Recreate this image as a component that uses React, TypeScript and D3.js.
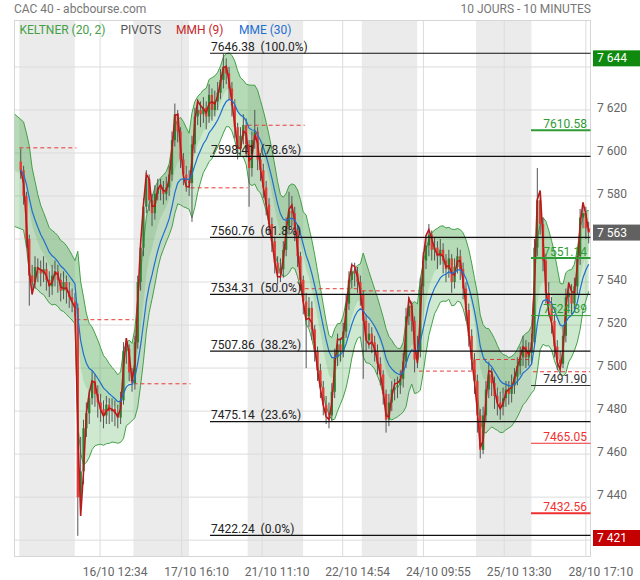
import * as d3 from 'd3';

const W = 640;
const H = 580;
const left = 14.5;
const right = 590.5;
const top = 20.5;
const bottom = 556.5;

const title = 'CAC 40 - abcbourse.com';
const subtitle = '10 JOURS - 10 MINUTES';

// 10 jours, 20 bougies par jour
const candlesPerDay = 20;
const firstOpen = 7596;

const closes = [
  7592, 7580, 7560, 7543, 7540, 7547, 7546, 7544, 7546, 7541, 7538, 7543, 7545, 7541, 7536, 7540, 7536, 7533, 7531, 7528,
  7440, 7452, 7472, 7479, 7486, 7494, 7488, 7484, 7481, 7478, 7483, 7480, 7481, 7479, 7477, 7485, 7508, 7509, 7498, 7493,
  7512, 7540, 7556, 7575, 7588, 7578, 7572, 7581, 7584, 7583, 7581, 7584, 7590, 7606, 7618, 7610, 7597, 7590, 7587, 7586,
  7604, 7617, 7620, 7618, 7621, 7617, 7627, 7620, 7624, 7628, 7634, 7640, 7637, 7630, 7622, 7612, 7602, 7608, 7613, 7604,
  7593, 7606, 7610, 7597, 7592, 7584, 7576, 7567, 7559, 7549, 7544, 7546, 7555, 7566, 7573, 7572, 7564, 7552, 7541, 7531,
  7524, 7528, 7518, 7508, 7499, 7491, 7483, 7479, 7478, 7489, 7505, 7511, 7508, 7517, 7530, 7541, 7545, 7544, 7540, 7534,
  7522, 7513, 7516, 7512, 7508, 7502, 7497, 7488, 7476, 7484, 7490, 7491, 7492, 7495, 7503, 7524, 7529, 7522, 7504, 7508,
  7538, 7550, 7557, 7562, 7555, 7556, 7552, 7555, 7550, 7546, 7551, 7540, 7547, 7552, 7546, 7537, 7527, 7515, 7504, 7494,
  7478, 7462, 7478, 7490, 7497, 7493, 7487, 7484, 7482, 7486, 7490, 7488, 7492, 7496, 7501, 7505, 7510, 7505, 7507, 7512,
  7556, 7578, 7567, 7550, 7535, 7530, 7522, 7510, 7504, 7502, 7515, 7533, 7535, 7530, 7538, 7552, 7570, 7572, 7565, 7563,
];

const highs = [
  7602, 7594, 7582, 7562, 7548, 7552, 7551, 7550, 7552, 7549, 7545, 7548, 7550, 7548, 7544, 7545, 7543, 7540, 7537, 7535,
  7530, 7468, 7476, 7484, 7490, 7499, 7497, 7492, 7488, 7485, 7487, 7486, 7486, 7485, 7483, 7489, 7512, 7514, 7511, 7500,
  7515, 7543, 7560, 7579, 7592, 7590, 7581, 7585, 7588, 7588, 7587, 7589, 7594, 7610, 7623, 7620, 7612, 7600, 7594, 7592,
  7608, 7621, 7625, 7624, 7626, 7624, 7632, 7630, 7629, 7633, 7639, 7646, 7644, 7640, 7633, 7625, 7614, 7612, 7618, 7616,
  7606, 7610, 7620, 7612, 7600, 7595, 7587, 7579, 7570, 7561, 7552, 7551, 7559, 7570, 7582, 7580, 7575, 7566, 7554, 7543,
  7535, 7533, 7531, 7520, 7510, 7502, 7494, 7487, 7484, 7493, 7509, 7516, 7514, 7521, 7534, 7545, 7549, 7549, 7547, 7543,
  7536, 7525, 7521, 7519, 7515, 7511, 7505, 7499, 7490, 7488, 7494, 7495, 7496, 7499, 7507, 7528, 7533, 7531, 7524, 7515,
  7542, 7554, 7561, 7567, 7564, 7561, 7559, 7560, 7558, 7553, 7555, 7553, 7551, 7556, 7555, 7549, 7540, 7530, 7518, 7507,
  7497, 7481, 7482, 7494, 7503, 7500, 7496, 7491, 7489, 7491, 7494, 7494, 7497, 7500, 7505, 7510, 7515, 7513, 7512, 7516,
  7560, 7593, 7582, 7570, 7553, 7540, 7533, 7525, 7513, 7508, 7519, 7537, 7540, 7539, 7542, 7556, 7574, 7577, 7575, 7568,
];

const lows = [
  7588, 7576, 7556, 7529, 7534, 7537, 7540, 7538, 7540, 7536, 7533, 7534, 7538, 7535, 7531, 7532, 7530, 7528, 7526, 7524,
  7422, 7436, 7446, 7468, 7474, 7483, 7482, 7477, 7475, 7472, 7474, 7474, 7475, 7473, 7472, 7474, 7483, 7502, 7494, 7489,
  7490, 7509, 7536, 7552, 7572, 7573, 7566, 7569, 7578, 7578, 7576, 7578, 7580, 7587, 7603, 7605, 7593, 7585, 7582, 7580,
  7568, 7600, 7613, 7612, 7614, 7611, 7614, 7615, 7617, 7620, 7625, 7630, 7632, 7625, 7617, 7607, 7597, 7599, 7604, 7598,
  7575, 7589, 7602, 7592, 7587, 7579, 7571, 7562, 7554, 7544, 7539, 7540, 7542, 7552, 7562, 7566, 7559, 7547, 7536, 7525,
  7500, 7519, 7513, 7503, 7494, 7486, 7478, 7474, 7472, 7475, 7486, 7501, 7503, 7505, 7514, 7527, 7537, 7538, 7535, 7529,
  7495, 7508, 7509, 7507, 7503, 7497, 7492, 7483, 7470, 7473, 7480, 7485, 7486, 7488, 7491, 7500, 7520, 7517, 7498, 7500,
  7505, 7534, 7546, 7552, 7550, 7550, 7546, 7548, 7544, 7540, 7542, 7535, 7537, 7544, 7541, 7532, 7522, 7510, 7499, 7488,
  7470, 7458, 7460, 7475, 7486, 7487, 7481, 7478, 7476, 7478, 7482, 7483, 7484, 7488, 7492, 7497, 7501, 7500, 7501, 7502,
  7510, 7552, 7562, 7545, 7530, 7524, 7516, 7505, 7499, 7497, 7500, 7512, 7528, 7525, 7526, 7534, 7548, 7565, 7560, 7558,
];

// pivot journalier (ligne pointillée rouge)
const dailyPivots = [7602.4, 7522.5, 7492.7, 7583.8, 7612.9, 7536.9, 7535.9, 7498.6, 7504.0, 7498.3];

// retracements de Fibonacci
const fiboLevels = [7646.38, 7598.41, 7560.76, 7534.31, 7507.86, 7475.14, 7422.24];
const fiboPct = ['100.0%', '78.6%', '61.8%', '50.0%', '38.2%', '23.6%', '0.0%'];

// pivots du jour suivant
const nextPivots = [7610.58, 7551.14, 7524.39, 7491.9, 7465.05, 7432.56];

const yTicks = [7420, 7440, 7460, 7480, 7500, 7520, 7540, 7560, 7580, 7600, 7620, 7640];
const xTickIdx = [27.8, 56.4, 84.6, 112.8, 141.1, 169.4, 198.0];
const xTickLabels = ['16/10 12:34', '17/10 16:10', '21/10 11:10', '22/10 14:54', '24/10 09:55', '25/10 13:30', '28/10 17:10'];

const priceMax = 7644;
const priceLast = 7563;
const priceMin = 7421;

// indicateurs (périodes ramenées à la granularité des bougies)
const kPeriod = 8;
const kMult = 1.2;
const atrSeed = 24;
const mmePeriod = 12;
const mmhPeriod = 4;

const ema = (vals: number[], n: number) => {
  const a = 2 / (n + 1);
  let e = vals[0];
  return vals.map((v, i) => {
    e = i === 0 ? v : e + a * (v - e);
    return e;
  });
};

const wma = (vals: number[], n: number) =>
  vals.map((_, i) => {
    let s = 0;
    let w = 0;
    for (let j = 0; j < n; j++) {
      const k = i - j;
      if (k < 0) break;
      s += vals[k] * (n - j);
      w += n - j;
    }
    return s / w;
  });

const hma = (vals: number[], n: number) => {
  const half = wma(vals, Math.round(n / 2));
  const full = wma(vals, n);
  return wma(half.map((h, i) => 2 * h - full[i]), Math.max(1, Math.round(Math.sqrt(n))));
};

const fmt = d3.formatLocale({ decimal: '.', thousands: ' ', grouping: [3], currency: ['', ''] }).format(',d');

export default function App() {
  const n = closes.length;
  const opens = closes.map((c, i) => (i === 0 ? firstOpen : closes[i - 1]));

  const xs = d3.scaleLinear().domain([0, n - 1]).range([20.73, 588.7]);
  const ys = d3.scaleLinear().domain([7412.4, 7661.6]).range([bottom, top]);
  const step = xs(1) - xs(0);

  // Keltner
  const mid = ema(closes, kPeriod);
  const tr = closes.map((c, i) => {
    const pc = i === 0 ? firstOpen : closes[i - 1];
    return Math.max(highs[i] - lows[i], Math.abs(highs[i] - pc), Math.abs(lows[i] - pc));
  });
  const aA = 2 / (kPeriod + 1);
  let at = atrSeed;
  const atr = tr.map((t) => {
    at = at + aA * (t - at);
    return at;
  });
  const upper = mid.map((m, i) => m + kMult * atr[i]);
  const lower = mid.map((m, i) => m - kMult * atr[i]);
  const mme = ema(closes, mmePeriod);
  const mmh = hma(closes, mmhPeriod);

  const idx = d3.range(n);
  // la bande démarre au bord gauche du cadre
  const bx = (i: number) => (i === 0 ? left : xs(i));
  const bandArea = d3.area<number>().x(bx).y0((i) => ys(lower[i])).y1((i) => ys(upper[i]));
  const upperArea = d3.area<number>().x(bx).y0((i) => ys(mid[i])).y1((i) => ys(upper[i]));
  const bandLine = (arr: number[]) => d3.line<number>().x(bx).y((i) => ys(arr[i]))(idx) || '';
  const lineOf = (arr: number[]) => d3.line<number>().x((i) => xs(i)).y((i) => ys(arr[i]))(idx) || '';

  const days = d3.range(closes.length / candlesPerDay);
  const font = 'Roboto, "Noto Sans", sans-serif';

  const nextPivotStyle = [
    { c: '#2e9b33', w: 2 },
    { c: '#2e9b33', w: 2 },
    { c: '#2e9b33', w: 1 },
    { c: '#333333', w: 1 },
    { c: '#f03030', w: 1 },
    { c: '#f03030', w: 2 },
  ];

  const boxes = [
    { v: priceMax, fill: '#0f8a0f' },
    { v: priceLast, fill: '#616161' },
    { v: priceMin, fill: '#c40000' },
  ];
  // les étiquettes masquées par les cartouches ne sont pas dessinées
  const visibleTicks = yTicks.filter((t) => boxes.every((b) => Math.abs(ys(t) - 2 - ys(b.v)) > 13));

  return (
    <svg
      width={W}
      height={H}
      style={{ position: 'absolute', left: 0, top: 0, background: '#fff' }}
      fontFamily={font}
    >
      <defs>
        <clipPath id="plot">
          <rect x={left} y={top} width={right - left} height={bottom - top} />
        </clipPath>
      </defs>

      <text x={14} y={12.5} fontSize={12} fill="#777">{title}</text>
      <text x={591} y={12.5} fontSize={12} fill="#777" textAnchor="end">{subtitle}</text>

      {/* fond des jours alternés */}
      {days.filter((d) => d % 2 === 0).map((d) => (
        <rect
          key={'day' + d}
          x={xs(d * candlesPerDay) - step / 2}
          y={top}
          width={xs(d * candlesPerDay + candlesPerDay - 1) - xs(d * candlesPerDay) + step - 1.6}
          height={bottom - top}
          fill="#ebebeb"
        />
      ))}

      {/* grille */}
      {yTicks.map((t) => (
        <line key={'gy' + t} x1={left} x2={right} y1={ys(t)} y2={ys(t)} stroke="#dcdcdc" />
      ))}
      {xTickIdx.map((t) => (
        <line key={'gx' + t} x1={xs(t)} x2={xs(t)} y1={top} y2={bottom} stroke="#dcdcdc" />
      ))}
      <rect x={left} y={top} width={right - left} height={bottom - top} fill="none" stroke="#d6d6d6" />

      <g clipPath="url(#plot)">
        {/* Keltner */}
        <path d={bandArea(idx) || ''} fill="#4caf50" fillOpacity={0.27} />
        <path d={upperArea(idx) || ''} fill="#3d9a40" fillOpacity={0.18} />
        <path d={bandLine(upper)} fill="none" stroke="#43a047" strokeWidth={1} />
        <path d={bandLine(lower)} fill="none" stroke="#43a047" strokeWidth={1} />

        {/* pivots */}
        {dailyPivots.map((p, d) => (
          <line
            key={'pv' + d}
            x1={xs(d * candlesPerDay) - step / 2}
            x2={xs(d * candlesPerDay + candlesPerDay - 1) + step / 2}
            y1={ys(p)}
            y2={ys(p)}
            stroke="#e53935"
            strokeDasharray="4,3"
          />
        ))}

        {/* bougies */}
        {idx.map((i) => (
          <line key={'w' + i} x1={xs(i)} x2={xs(i)} y1={ys(highs[i])} y2={ys(lows[i])} stroke="#555" strokeWidth={1} />
        ))}
        {idx.map((i) => {
          const up = closes[i] >= opens[i];
          const y0 = ys(Math.max(opens[i], closes[i]));
          const y1 = ys(Math.min(opens[i], closes[i]));
          return (
            <rect
              key={'b' + i}
              x={xs(i) - step * 0.4}
              y={y0}
              width={step * 0.8}
              height={Math.max(1, y1 - y0)}
              fill={up ? '#2e7d32' : '#e53935'}
            />
          );
        })}

        <path d={lineOf(mmh)} fill="none" stroke="#b71c1c" strokeWidth={1.6} />
        <path d={lineOf(mme)} fill="none" stroke="#1e6fd0" strokeWidth={1.2} />
      </g>

      {/* Fibonacci */}
      {fiboLevels.map((v, i) => (
        <g key={'fb' + i}>
          <line x1={210} x2={right} y1={ys(v)} y2={ys(v)} stroke="#111" strokeWidth={1.2} />
          <text x={211} y={ys(v) - 2.5} fontSize={12} fill="#222" style={{ whiteSpace: 'pre' }}>
            {`${v.toFixed(2)}  (${fiboPct[i]})`}
          </text>
        </g>
      ))}

      {/* pivots du jour suivant */}
      {nextPivots.map((v, i) => (
        <g key={'np' + i}>
          <line x1={531} x2={right} y1={ys(v)} y2={ys(v)} stroke={nextPivotStyle[i].c} strokeWidth={nextPivotStyle[i].w} />
          <text x={587} y={ys(v) - 2.5} fontSize={12} fill={nextPivotStyle[i].c} textAnchor="end">
            {v.toFixed(2)}
          </text>
        </g>
      ))}

      {/* légende */}
      <text x={19.5} y={33.5} fontSize={12} fill="#43a047">KELTNER (20, 2)</text>
      <text x={120.5} y={33.5} fontSize={12} fill="#555">PIVOTS</text>
      <text x={176} y={33.5} fontSize={12} fill="#c62828">MMH (9)</text>
      <text x={239} y={33.5} fontSize={12} fill="#1e6fd0">MME (30)</text>

      {/* axe Y */}
      {visibleTicks.map((t) => (
        <text key={'ty' + t} x={597} y={ys(t) - 2} fontSize={12} fill="#666" dominantBaseline="central">
          {fmt(t)}
        </text>
      ))}
      {boxes.map((b) => (
        <g key={'bx' + b.v}>
          <rect x={593} y={ys(b.v) - 8} width={47} height={16} fill={b.fill} />
          <text x={597} y={ys(b.v)} fontSize={12} fill="#fff" dominantBaseline="central">
            {fmt(b.v)}
          </text>
        </g>
      ))}

      {/* axe X */}
      {xTickIdx.map((t, i) => (
        <text key={'tx' + i} x={xs(t) + 15} y={576} fontSize={12} fill="#666" textAnchor="middle">
          {xTickLabels[i]}
        </text>
      ))}
    </svg>
  );
}
